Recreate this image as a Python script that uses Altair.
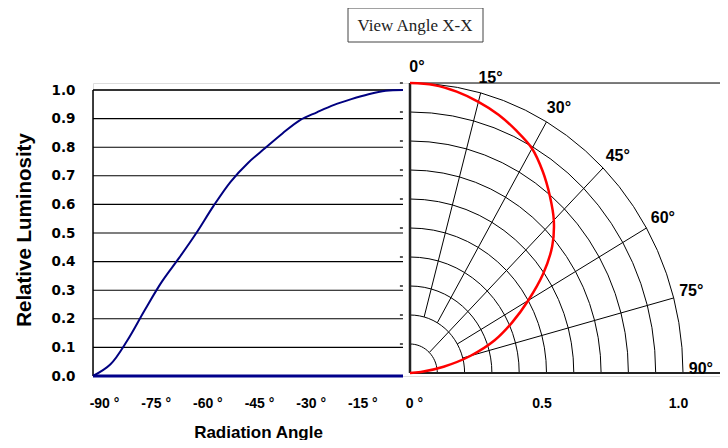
import math
import altair as alt
import pandas as pd

# ---------------- data ----------------
angles = [-90, -85, -80, -75, -70, -65, -60, -55, -50, -45, -40, -35, -30, -25, -20, -15, -10, -5, 0]
lum = [0.0, 0.04, 0.125, 0.23, 0.33, 0.413, 0.5, 0.595, 0.68, 0.745, 0.797, 0.848,
       0.894, 0.922, 0.948, 0.968, 0.985, 0.997, 1.0]
y_ticks = [0.0, 0.1, 0.2, 0.3, 0.4, 0.5, 0.6, 0.7, 0.8, 0.9, 1.0]
x_ticks = [-90, -75, -60, -45, -30, -15, 0]
rings = [0.1, 0.2, 0.3, 0.4, 0.5, 0.6, 0.7, 0.8, 0.9, 1.0]
ray_angles = [15, 30, 45, 60, 75]
ray_inner = [0.2, 0.2, 0.1, 0.2, 0.2]
label_angles = [0, 15, 30, 45, 60, 75, 90]
polar_x_ticks = [0.5, 1.0]
title_text = "View Angle X-X"

# ---------------- layout ----------------
PAD_L, PAD_T, PAD_B = 85, 75, 64
W, H = 627, 293
L_PX_PER_DEG = 310 / 90
L_PX_PER_UNIT = 286
P_ORIGIN_X = 317
P_PX_X = 273
P_PX_Y = 290
P_ORIGIN_Y_OFF = 3

sx_left = alt.Scale(domain=[-90, -90 + W / L_PX_PER_DEG], nice=False, zero=False)
sy_left = alt.Scale(domain=[0, H / L_PX_PER_UNIT], nice=False, zero=False)
sx_pol = alt.Scale(domain=[-P_ORIGIN_X / P_PX_X, (W - P_ORIGIN_X) / P_PX_X], nice=False, zero=False)
sy_pol = alt.Scale(domain=[-P_ORIGIN_Y_OFF / P_PX_Y, (H - P_ORIGIN_Y_OFF) / P_PX_Y], nice=False, zero=False)
x_right_end = (W - P_ORIGIN_X) / P_PX_X

SANS = "Liberation Sans"

ax_left_x = alt.Axis(
    values=x_ticks, labelExpr="datum.value + ' °'", labelOffset=11, labelPadding=20,
    labelFont=SANS, labelFontWeight="bold", labelFontSize=14, labelColor="black",
    labelFlush=False, labelOverlap=False, ticks=False, domain=False, grid=False,
    orient="bottom", title="Radiation Angle", titleFont=SANS, titleFontSize=17,
    titleFontWeight="bold", titleColor="black", titleX=165, titleY=48,
    titleBaseline="top", titleAlign="center")
ax_left_y = alt.Axis(
    values=y_ticks, format=".1f", labelFont="DejaVu Sans", labelFontWeight="bold",
    labelFontSize=13.5, labelColor="black", labelPadding=18, labelOverlap=False,
    labelFlush=False, ticks=False, domain=False,
    grid=False, orient="left", title="Relative Luminosity", titleFont=SANS,
    titleFontSize=20.5, titleFontWeight="bold", titleColor="black", titlePadding=17)
ax_pol_x = alt.Axis(
    values=polar_x_ticks, format=".1f", labelOffset=-5, labelPadding=20,
    labelFont=SANS, labelFontWeight="bold", labelFontSize=14, labelColor="black",
    labelFlush=False, labelOverlap=False, ticks=False, domain=False, grid=False,
    orient="bottom", title=None)


def LX(field):
    return alt.X(field, scale=sx_left, axis=ax_left_x)


def LY(field):
    return alt.Y(field, scale=sy_left, axis=ax_left_y)


def PX(field):
    return alt.X(field, scale=sx_pol, axis=ax_pol_x)


def PY(field):
    return alt.Y(field, scale=sy_pol, axis=None)


# ---------------- left panel ----------------
grid_df = pd.DataFrame({"y": y_ticks[1:], "x0": -90, "x1": 0})
grid = alt.Chart(grid_df).mark_rule(color="black", strokeWidth=1.1).encode(
    x=LX("x0:Q"), x2="x1:Q", y=LY("y:Q"))
top_df = pd.DataFrame({"y": [1.0], "x0": [-90], "x1": [0]})
top_line = alt.Chart(top_df).mark_rule(color="#333333", strokeWidth=2).encode(
    x=LX("x0:Q"), x2="x1:Q", y=LY("y:Q"))
border_df = pd.DataFrame({"x": [-90], "y0": [0.0], "y1": [1.0]})
border = alt.Chart(border_df).mark_rule(color="black", strokeWidth=1.5).encode(
    x=LX("x:Q"), y=LY("y0:Q"), y2="y1:Q")
base_df = pd.DataFrame({"y": [0.0], "x0": [-90], "x1": [0]})
base_line = alt.Chart(base_df).mark_rule(color="#00008B", strokeWidth=3).encode(
    x=LX("x0:Q"), x2="x1:Q", y=LY("y:Q"))
curve_df = pd.DataFrame({"angle": angles, "lum": lum})
curve = alt.Chart(curve_df).mark_line(color="#000080", strokeWidth=2,
                                      interpolate="catmull-rom").encode(
    x=LX("angle:Q"), y=LY("lum:Q"), order="angle:Q")
left = alt.layer(grid, top_line, border, base_line, curve)

# ---------------- polar panel ----------------
ring_rows = []
for r in rings:
    for a in range(0, 91, 5):
        t = math.radians(a)
        ring_rows.append({"r": r, "a": a, "x": r * math.sin(t), "y": r * math.cos(t)})
ring_df = pd.DataFrame(ring_rows)
ring_layer = alt.Chart(ring_df).mark_line(color="black", strokeWidth=1).encode(
    x=PX("x:Q"), y=PY("y:Q"), detail="r:N", order="a:Q")

ray_rows = []
for a, rin in zip(ray_angles, ray_inner):
    t = math.radians(a)
    ray_rows.append({"x0": rin * math.sin(t), "y0": rin * math.cos(t),
                     "x1": math.sin(t), "y1": math.cos(t)})
ray_df = pd.DataFrame(ray_rows)
rays = alt.Chart(ray_df).mark_rule(color="black", strokeWidth=1).encode(
    x=PX("x0:Q"), y=PY("y0:Q"), x2="x1:Q", y2="y1:Q")

top_df2 = pd.DataFrame({"y": [1.0], "x0": [0.0], "x1": [x_right_end]})
bot_df2 = pd.DataFrame({"y": [0.0], "x0": [0.0], "x1": [x_right_end]})
top_h = alt.Chart(top_df2).mark_rule(color="#555555", strokeWidth=1.5).encode(
    x=PX("x0:Q"), x2="x1:Q", y=PY("y:Q"))
bot_h = alt.Chart(bot_df2).mark_rule(color="#222222", strokeWidth=2).encode(
    x=PX("x0:Q"), x2="x1:Q", y=PY("y:Q"))
vax_df = pd.DataFrame({"x": [0.0], "y0": [0.0], "y1": [1.0]})
vax = alt.Chart(vax_df).mark_rule(color="#222222", strokeWidth=2.5).encode(
    x=PX("x:Q"), y=PY("y0:Q"), y2="y1:Q")
tick_df = pd.DataFrame({"y": rings, "x0": -0.037, "x1": -0.026})
pticks = alt.Chart(tick_df).mark_rule(color="#222222", strokeWidth=1.5).encode(
    x=PX("x0:Q"), x2="x1:Q", y=PY("y:Q"))

pol_rows = []
for a, v in zip(angles, lum):
    t = math.radians(-a)
    pol_rows.append({"a": -a, "x": v * math.sin(t), "y": v * math.cos(t)})
pol_df = pd.DataFrame(pol_rows)
red = alt.Chart(pol_df).mark_line(color="#FF0000", strokeWidth=2.5,
                                  interpolate="catmull-rom").encode(
    x=PX("x:Q"), y=PY("y:Q"), order="a:Q")

lab_rows = []
for a in label_angles:
    t = math.radians(a)
    lab_rows.append({"x": 1.04 * math.sin(t), "y": 1.04 * math.cos(t), "t": f"{a}°"})
lab_df = pd.DataFrame(lab_rows)
labels = alt.Chart(lab_df).mark_text(
    font=SANS, fontWeight="bold", fontSize=16, color="black", dx=7, dy=-4,
    align="center", baseline="middle").encode(
    x=PX("x:Q"), y=PY("y:Q"), text="t:N")

polar = alt.layer(ring_layer, rays, top_h, bot_h, vax, pticks, red, labels)

# ---------------- title box ----------------
tdf = pd.DataFrame({"t": [title_text]})
box = alt.Chart(tdf).mark_rect(fill="white", stroke="#444444", strokeWidth=1).encode(
    x=alt.value(255), x2=alt.value(390), y=alt.value(-75), y2=alt.value(-41))
ttext = alt.Chart(tdf).mark_text(font="Liberation Serif", fontSize=17, color="#222222",
                                 align="center", baseline="middle").encode(
    x=alt.value(322), y=alt.value(-57), text="t:N")
title_layer = alt.layer(box, ttext)

chart = alt.layer(left, polar, title_layer).resolve_scale(
    x="independent", y="independent"
).properties(
    width=W, height=H,
    padding={"left": PAD_L, "top": PAD_T, "right": 0, "bottom": PAD_B},
    autosize=alt.AutoSizeParams(type="none"),
).configure_view(stroke=None).configure(background="white")

chart.save("out.html", embed_options={"renderer": "svg", "actions": False})
